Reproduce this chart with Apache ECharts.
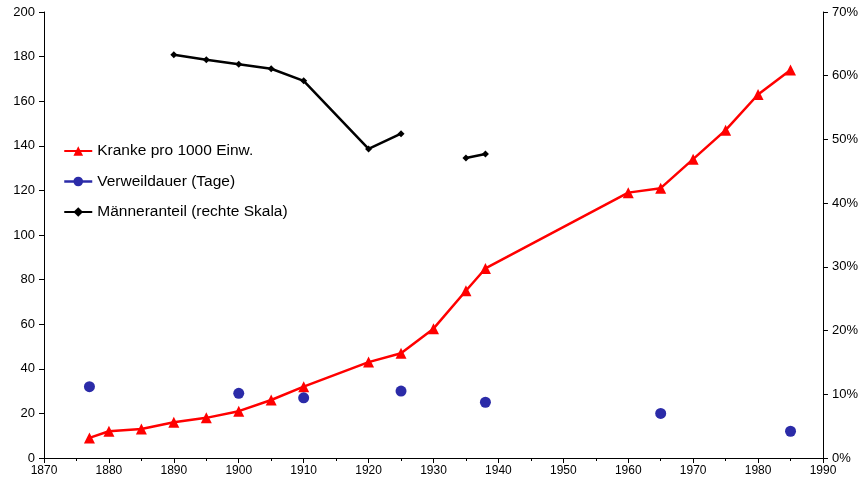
<!DOCTYPE html>
<html><head><meta charset="utf-8">
<script src="https://cdn.jsdelivr.net/npm/echarts@6/dist/echarts.min.js"></script>
<style>html,body{margin:0;padding:0;background:#fff}#c{width:861px;height:484px}</style>
</head><body><div id="c"></div>
<script>
const krankeYears = [1877,1880,1885,1890,1895,1900,1905,1910,1920,1925,1930,1935,1938,1960,1965,1970,1975,1980,1985];
const krankeValues = [9,12,13,16,18,21,26,32,43,47,58,75,85,119,121,134,147,163,174];
const verweilYears = [1877,1900,1910,1925,1938,1965,1985];
const verweilValues = [32,29,27,30,25,20,12];
const maennerYears = [1890,1895,1900,1905,1910,1920,1925,1930,1935,1938];
const maennerValues = [63.3,62.5,61.8,61.1,59.2,48.5,50.9,null,47.1,47.7];
const names = ['Kranke pro 1000 Einw.','Verweildauer (Tage)','Männeranteil (rechte Skala)'];

const pair = (xs, ys) => xs.map((x,i)=>[x, ys[i]]);
const font = 'Liberation Sans, Arial, sans-serif';
const chart = echarts.init(document.getElementById('c'));
chart.setOption({
  animation:false,
  textStyle:{fontFamily:font},
  grid:{left:44,right:37,top:12,bottom:26},
  legend:{
    orient:'vertical', left:58, top:138, itemGap:14.5, itemWidth:28, itemHeight:12,
    textStyle:{fontSize:15.5,color:'#000',fontFamily:font},
    data:[
      {name:names[0]},
      {name:names[1], lineStyle:{opacity:1,width:2.5,color:'#2b2ba8'}},
      {name:names[2]}
    ]
  },
  xAxis:{
    type:'value', min:1870, max:1990, interval:10,
    axisLine:{lineStyle:{color:'#000'}},
    axisTick:{length:5,lineStyle:{color:'#000'}},
    minorTick:{show:true,splitNumber:2,length:3,lineStyle:{color:'#000'}},
    splitLine:{show:false},
    axisLabel:{color:'#000',fontSize:12,margin:7,fontFamily:font,formatter:v=>String(v)}
  },
  yAxis:[{
    type:'value', min:0, max:200, interval:20,
    axisLine:{show:true,lineStyle:{color:'#000'}},
    axisTick:{show:true,length:5,lineStyle:{color:'#000'}},
    splitLine:{show:false},
    axisLabel:{color:'#000',fontSize:13,margin:9,fontFamily:font}
  },{
    type:'value', min:0, max:70, interval:10, position:'right',
    axisLine:{show:true,lineStyle:{color:'#000'}},
    axisTick:{show:true,length:5,lineStyle:{color:'#000'}},
    splitLine:{show:false},
    axisLabel:{color:'#000',fontSize:13,margin:9,formatter:'{value}%',fontFamily:font}
  }],
  series:[{
    name:names[0], type:'line', data:pair(krankeYears,krankeValues),
    color:'#ff0000', lineStyle:{width:2.5,color:'#ff0000'},
    symbol:'triangle', symbolSize:11, itemStyle:{color:'#ff0000'}
  },{
    name:names[1], type:'line', data:pair(verweilYears,verweilValues),
    color:'#2b2ba8', lineStyle:{width:2.5,color:'#2b2ba8',opacity:0},
    symbol:'circle', symbolSize:11, itemStyle:{color:'#2b2ba8'}
  },{
    name:names[2], type:'line', yAxisIndex:1, data:pair(maennerYears,maennerValues),
    connectNulls:false,
    color:'#000', lineStyle:{width:2.5,color:'#000'},
    symbol:'diamond', symbolSize:7, itemStyle:{color:'#000'}
  }]
});
</script></body></html>
